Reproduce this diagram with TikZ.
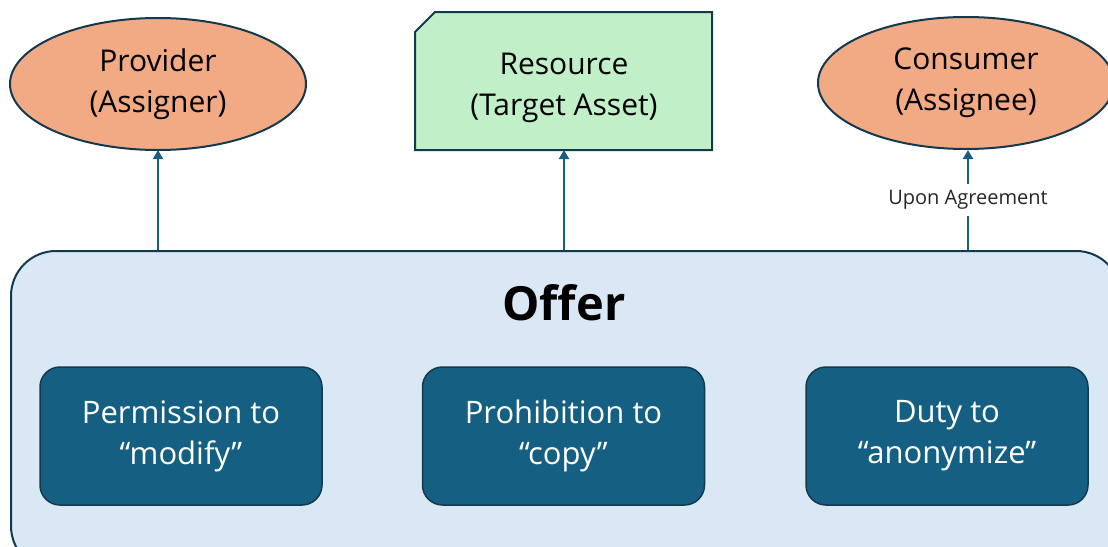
\documentclass[tikz,border=0pt]{standalone}
\usepackage{fontspec}
\setmainfont{Open Sans}
\usetikzlibrary{arrows.meta,shapes.geometric}
\definecolor{orangeF}{HTML}{F2AA84}
\definecolor{greenF}{HTML}{C1F0C8}
\definecolor{offerF}{HTML}{DAE8F6}
\definecolor{darkB}{HTML}{156082}
\definecolor{edgeC}{HTML}{12394D}
\tikzset{
  party/.style={ellipse, draw=edgeC, line width=2pt, fill=orangeF, minimum width=296pt, minimum height=132pt, align=center, font=\fontsize{30}{41}\selectfont, inner sep=0pt},
  resshape/.style={draw=edgeC, line width=2pt, fill=greenF},
  bigtext/.style={align=center, font=\fontsize{30}{41}\selectfont, inner sep=0pt},
  rulebox/.style={rectangle, rounded corners=20pt, draw=edgeC, line width=1.5pt, fill=darkB, text=white, minimum width=282pt, minimum height=138pt, align=center, font=\fontsize{31}{41}\selectfont, inner sep=0pt},
  link/.style={draw=darkB, line width=2.5pt, -{Triangle[width=10pt,length=9pt]}},
}
\begin{document}
\begin{tikzpicture}[x=1pt,y=-1pt]
\useasboundingbox (0,0) rectangle (1108,546);
\clip (0,0) rectangle (1108,546);
% Offer container
\node[draw=edgeC, line width=2pt, fill=offerF, rounded corners=45pt, minimum width=1110pt, minimum height=320pt, inner sep=0pt, anchor=north west] (offer) at (10,250) {};
\node[font=\bfseries\fontsize{47}{52}\selectfont] (offert) at (564,303) {Offer};
% Top nodes
\node[party] (prov) at (158,84) {Provider\\(Assigner)};
\path[resshape] (415,32) -- (435,12) -- (712,12) -- (712,150) -- (415,150) -- cycle;
\coordinate (resB) at (564,150);
\node[bigtext] (rest) at (564,88) {Resource\\(Target Asset)};
\node[party] (cons) at (966,83) {Consumer\\(Assignee)};
% Rule boxes
\node[rulebox] (perm) at (181,436) {Permission to\\“modify”};
\node[rulebox] (proh) at (563.5,436) {Prohibition to\\“copy”};
\node[rulebox] (duty) at (947,436) {Duty to\\“anonymize”};
% Connectors
\coordinate (p1) at (158,250);
\coordinate (p2) at (564,250);
\coordinate (p3) at (968,250);
\draw[link] (p1) -- (prov.south |- 0,150);
\draw[link] (p2) -- (resB);
\draw[link] (p3) -- (968,150) node[pos=0.5, fill=white, inner xsep=2pt, inner ysep=6pt, text=black!85, font=\fontsize{20}{22}\selectfont] (lbl) {Upon Agreement};
\end{tikzpicture}
\end{document}
